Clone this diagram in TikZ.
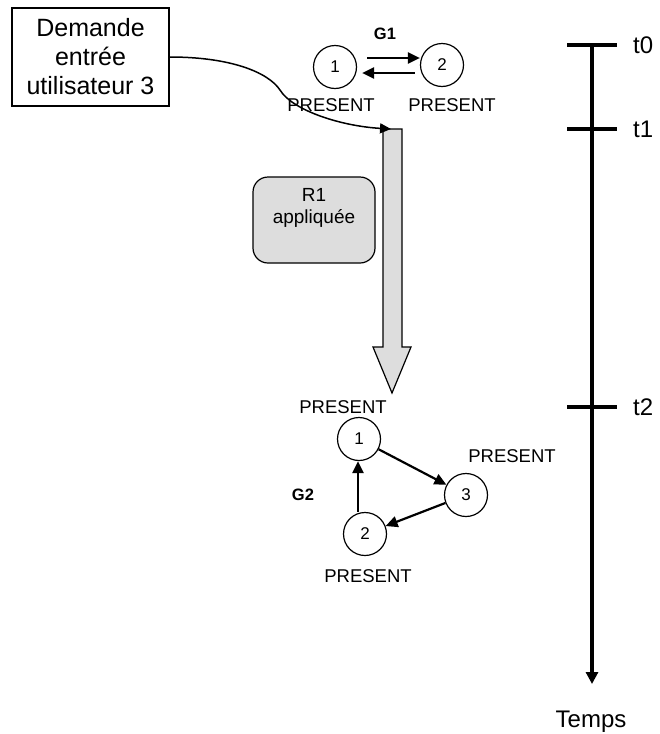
\documentclass[tikz,border=0pt]{standalone}
\usepackage{fontspec}
\setmainfont{Liberation Sans}
\usetikzlibrary{arrows.meta}
\definecolor{lgray}{RGB}{221,221,221}
\tikzset{
  fsz/.style={font=\fontsize{#1}{#1}\selectfont},
  st/.style={draw, circle, minimum size=43pt, inner sep=0pt, line width=1.2pt, fsz=17},
  lbl/.style={inner sep=0pt, fsz=18.5},
  arr/.style={line width=2.2pt, -{Triangle[length=12pt,width=11pt]}},
  tick/.style={line width=3.5pt},
  tlab/.style={inner sep=0pt, anchor=west, fsz=24},
  rbox/.style={draw, fill=lgray, rounded corners=15pt, minimum width=122pt, minimum height=86pt, line width=1.2pt}
}
\begin{document}
\begin{tikzpicture}[x=1pt,y=-1pt]
\useasboundingbox (0,0) rectangle (659,734);
% request box
\node[draw, line width=1.5pt, minimum width=157pt, minimum height=98pt, align=center,
      font=\fontsize{25}{29}\selectfont, inner sep=0pt] (req) at (90.5,57) {Demande\\entrée\\utilisateur 3};
% G1
\node[inner sep=0pt, font=\fontsize{16.5}{16.5}\selectfont\bfseries] (g1lab) at (385,34) {G1};
\node[st] (a1) at (335,67) {1};
\node[st] (a2) at (442,65) {2};
\node[lbl] (a1p) at (331,105) {PRESENT};
\node[lbl] (a2p) at (452,105) {PRESENT};
\draw[arr] ([xshift=10pt,yshift=9pt]a1.east) -- ([yshift=7pt]a2.west);
\draw[arr] ([xshift=-5pt,yshift=-8pt]a2.west) -- ([xshift=5pt,yshift=-6pt]a1.east);
% big arrow
\draw[fill=lgray, line width=1.2pt] (383,129) -- (402,129) -- (402,347) -- (411,347) -- (392,393) -- (373,347) -- (383,347) -- cycle;
\coordinate (bigtop) at (391,129);
% curve
\draw[line width=1.5pt, -{Triangle[length=11pt,width=10pt]}] (req.east) .. controls (230,57) and (268,72) .. (280,90) .. controls (292,110) and (340,126) .. (bigtop);
% R1 box
\node[rbox] (r1) at (314,220) {};
\node[inner sep=0pt, align=center, font=\fontsize{19}{22}\selectfont] (r1t) at (314,208) {R1\\appliquée};
% G2
\node[inner sep=0pt, font=\fontsize{16.5}{16.5}\selectfont\bfseries] (g2lab) at (303,495) {G2};
\node[st] (b1) at (359,439) {1};
\node[st] (b3) at (466,495) {3};
\node[st] (b2) at (365,534) {2};
\node[lbl] (b1p) at (343,407) {PRESENT};
\node[lbl] (b3p) at (512,456) {PRESENT};
\node[lbl] (b2p) at (368,576) {PRESENT};
\draw[arr] (b1) -- (b3);
\draw[arr] (b3) -- (b2);
\draw[arr] ([xshift=-7pt]b2.north) -- (b1.south -| 358,0);
% timeline
\coordinate (tstart) at (592,45);
\coordinate (tend) at (592,684);
\draw[line width=3.5pt, -{Triangle[length=12pt,width=12pt]}] (tstart) -- (tend);
\draw[tick] (567,45) -- (617,45);
\draw[tick] (567,129) -- (617,129);
\draw[tick] (567,407) -- (617,407);
\node[tlab] (t0) at (633,45) {t0};
\node[tlab] (t1) at (633,129) {t1};
\node[tlab] (t2) at (633,407) {t2};
\node[inner sep=0pt, fsz=24] (temps) at (591,722) {Temps};
\end{tikzpicture}
\end{document}
